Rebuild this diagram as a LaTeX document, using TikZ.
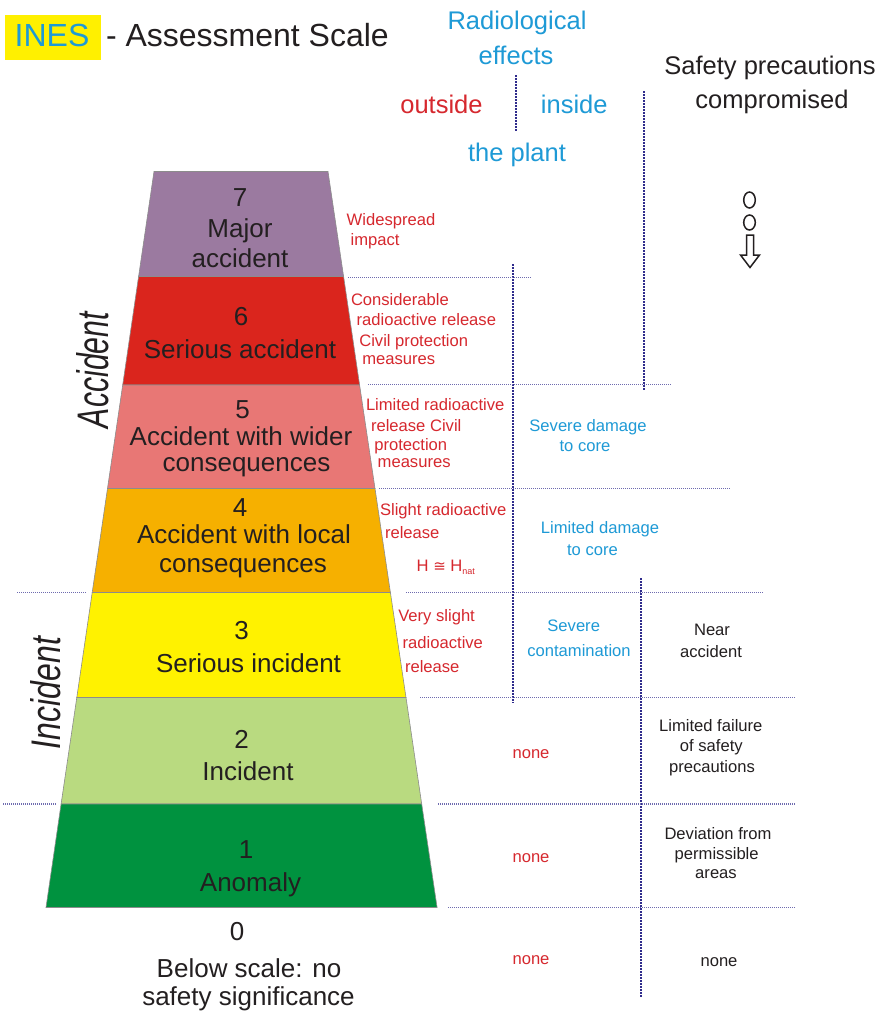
\documentclass[tikz,border=0pt]{standalone}
\usepackage{fontspec}
\setmainfont{Liberation Sans}
\newfontfamily\symfont{DejaVu Sans}
\usetikzlibrary{calc}
\definecolor{inesblue}{RGB}{30,154,214}
\definecolor{inesred}{RGB}{214,40,46}
\definecolor{dotnavy}{RGB}{48,44,140}
\definecolor{txtdark}{RGB}{35,31,32}
\definecolor{cseven}{RGB}{155,122,160}
\definecolor{csix}{RGB}{218,37,29}
\definecolor{cfive}{RGB}{232,119,117}
\definecolor{cfour}{RGB}{246,176,0}
\definecolor{cthree}{RGB}{255,242,0}
\definecolor{ctwo}{RGB}{185,218,128}
\definecolor{cone}{RGB}{0,146,63}
\definecolor{inesyellow}{RGB}{255,240,0}
\newcommand\fsz[1]{\fontsize{#1}{#1}\selectfont}
\tikzset{
 lbl/.style={inner sep=0pt, outer sep=0pt, anchor=base},
 lbll/.style={inner sep=0pt, outer sep=0pt, anchor=base west},
 bandtxt/.style={lbl, text=txtdark, font=\fsz{26}},
 headtxt/.style={lbl, font=\fsz{25.5}},
 smalltxt/.style={font=\fsz{16.6}},
 redl/.style={lbll, smalltxt, text=inesred},
 redc/.style={lbl, smalltxt, text=inesred},
 bluec/.style={lbl, smalltxt, text=inesblue},
 blackc/.style={lbl, smalltxt, text=txtdark},
 vdots/.style={draw=dotnavy, line width=2pt, dash pattern=on 1.5pt off 1.5pt},
 hdots/.style={draw=dotnavy!70, line width=1.1pt, dash pattern=on 1pt off 1pt},
 bandshape/.style={draw=black!45, line width=0.6pt},
 sidelbl/.style={inner sep=0pt, outer sep=0pt, rotate=90, text=txtdark},
}
\begin{document}
\begin{tikzpicture}[x=1pt,y=-1pt]
\useasboundingbox (0,0) rectangle (882,1012);
\fill[white] (0,0) rectangle (882,1012);

% title
\fill[inesyellow] (4.5,15) rectangle (100.5,60);
\node[lbl, text=inesblue, font=\fsz{32}] (ines) at (52,46.7) {INES};
\node[lbll, text=txtdark, font=\fsz{32}] (title) at (106,46.7) {- Assessment Scale};

% headers
\node[headtxt, text=inesblue] (radio) at (517,29) {Radiological};
\node[headtxt, text=inesblue] (effects) at (516,64) {effects};
\node[headtxt, text=inesred] (outside) at (441.5,113.3) {outside};
\node[headtxt, text=inesblue] (inside) at (574.3,113.3) {inside};
\node[headtxt, text=inesblue] (plant) at (517,161.7) {the plant};
\node[headtxt, text=txtdark] (safety) at (770,74) {Safety precautions};
\node[headtxt, text=txtdark] (compr) at (772,108.3) {compromised};

% circles and arrow
\draw[line width=1.5pt, txtdark] (749.5,200) ellipse [x radius=5.8, y radius=8];
\draw[line width=1.5pt, txtdark] (749.5,222.5) ellipse [x radius=5.8, y radius=7.5];
\draw[line width=1.5pt, txtdark, fill=white, line join=miter]
  (746.5,235) -- (753.5,235) -- (753.5,255) -- (759.5,255) -- (750,267.5)
  -- (740.5,255) -- (746.5,255) -- cycle;

% bands
\path[bandshape, fill=cseven] (154,171.5) -- (328,171.5) -- (343.6,276.5) -- (138.6,276.5) -- cycle;
\path[bandshape, fill=csix] (138.6,276.5) -- (343.6,276.5) -- (359.6,385) -- (122.7,385) -- cycle;
\path[bandshape, fill=cfive] (122.7,385) -- (359.6,385) -- (375,488.5) -- (107.5,488.5) -- cycle;
\path[bandshape, fill=cfour] (107.5,488.5) -- (375,488.5) -- (390.4,592.5) -- (92.2,592.5) -- cycle;
\path[bandshape, fill=cthree] (92.2,592.5) -- (390.4,592.5) -- (406,697.5) -- (76.8,697.5) -- cycle;
\path[bandshape, fill=ctwo] (76.8,697.5) -- (406,697.5) -- (421.7,804) -- (61.1,804) -- cycle;
\path[bandshape, fill=cone] (61.1,804) -- (421.7,804) -- (437.1,907.5) -- (46,907.5) -- cycle;

% band texts
\node[bandtxt] (n7) at (240,206) {7};
\node[bandtxt] (t7a) at (240,237.5) {Major};
\node[bandtxt] (t7b) at (240,267) {accident};
\node[bandtxt] (n6) at (241,325.5) {6};
\node[bandtxt] (t6a) at (240,358) {Serious accident};
\node[bandtxt] (n5) at (242.5,418) {5};
\node[bandtxt] (t5a) at (241,445) {Accident with wider};
\node[bandtxt] (t5b) at (246.5,471.5) {consequences};
\node[bandtxt] (n4) at (240,516) {4};
\node[bandtxt] (t4a) at (244,543) {Accident with local};
\node[bandtxt] (t4b) at (243,572.5) {consequences};
\node[bandtxt] (n3) at (241.5,639) {3};
\node[bandtxt] (t3a) at (248.5,672) {Serious incident};
\node[bandtxt] (n2) at (241.5,748) {2};
\node[bandtxt] (t2a) at (248,780.5) {Incident};
\node[bandtxt] (n1) at (246,858) {1};
\node[bandtxt] (t1a) at (250.5,891.5) {Anomaly};
\node[bandtxt] (n0) at (237,940.5) {0};
\node[bandtxt] (t0a) at (249,977) {Below scale: no};
\node[bandtxt] (t0b) at (248.5,1005) {safety significance};

% side labels
\node[sidelbl] (acc) at (93,370) {\resizebox{116pt}{32pt}{\itshape Accident}};
\node[sidelbl] (inc) at (46,693) {\resizebox{112pt}{30pt}{\itshape Incident}};

% red texts
\node[redl] (r7a) at (346.7,225) {Widespread};
\node[redl] (r7b) at (350.7,245) {impact};
\node[redl] (r6a) at (351,305) {Considerable};
\node[redl] (r6b) at (356.7,325.7) {radioactive release};
\node[redl] (r6c) at (359.3,346.7) {Civil protection};
\node[redl] (r6d) at (362.3,364.3) {measures};
\node[redl] (r5a) at (366,410) {Limited radioactive};
\node[redl] (r5b) at (371,431) {release Civil};
\node[redl] (r5c) at (374.3,450) {protection};
\node[redl] (r5d) at (377.7,467.7) {measures};
\node[redl] (r4a) at (380,515) {Slight radioactive};
\node[redl] (r4b) at (385,538.3) {release};
\node[redl] (r4c) at (416.7,571.7) {H {\symfont\fsz{15}≅} H\raisebox{-3pt}{\fsz{9}nat}};
\node[redl] (r3a) at (398.3,621.7) {Very slight};
\node[redl] (r3b) at (402.7,648.3) {radioactive};
\node[redl] (r3c) at (405,672.3) {release};
\node[redc] (r2) at (531,758.3) {none};
\node[redc] (r1) at (531,862.3) {none};
\node[redc] (r0) at (531,964.3) {none};

% blue texts
\node[bluec] (b5a) at (588,431.7) {Severe damage};
\node[bluec] (b5b) at (585,451.7) {to core};
\node[bluec] (b4a) at (600,533.3) {Limited damage};
\node[bluec] (b4b) at (592.5,555) {to core};
\node[bluec] (b3a) at (573.7,631.7) {Severe};
\node[bluec] (b3b) at (579,656.7) {contamination};

% black texts
\node[blackc] (k3a) at (712,635.7) {Near};
\node[blackc] (k3b) at (711,657.3) {accident};
\node[blackc] (k2a) at (710.8,731) {Limited failure};
\node[blackc] (k2b) at (711.3,751.7) {of safety};
\node[blackc] (k2c) at (712,772.3) {precautions};
\node[blackc] (k1a) at (718,839) {Deviation from};
\node[blackc] (k1b) at (716.7,859.3) {permissible};
\node[blackc] (k1c) at (716,878.3) {areas};
\node[blackc] (k0) at (719,966) {none};

% dotted lines
\draw[vdots] (515.5,75) -- (515.5,131);
\draw[vdots] (644,91) -- (644,390);
\draw[vdots] (513,264) -- (513,703);
\draw[vdots] (641,578) -- (641,997);
\draw[hdots] (348,277.5) -- (532,277.5);
\draw[hdots] (368,384.5) -- (672,384.5);
\draw[hdots] (379,488.5) -- (730,488.5);
\draw[hdots] (406,592.5) -- (764,592.5);
\draw[hdots] (17,592.5) -- (86,592.5);
\draw[hdots] (420,697.5) -- (795,697.5);
\draw[hdots] (438,804) -- (796,804);
\draw[hdots] (3,804) -- (57,804);
\draw[hdots] (448,907.5) -- (795,907.5);
\end{tikzpicture}
\end{document}
